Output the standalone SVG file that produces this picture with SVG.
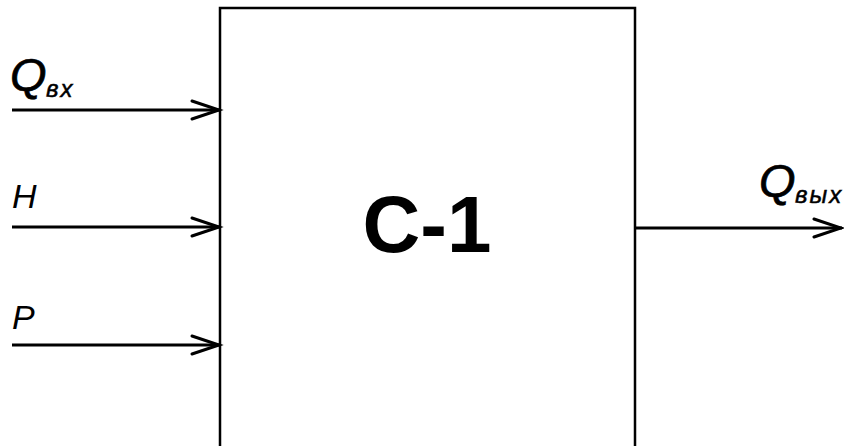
<svg xmlns="http://www.w3.org/2000/svg" width="844" height="446" viewBox="0 0 844 446">
  <style>
    .lbl { font-family: "Liberation Sans", Arial, sans-serif; font-style: italic; fill: #000; }
    .q { font-size: 47px; stroke: #000; stroke-width: 0.7; }
    .sub { font-family: "Liberation Sans", Arial, sans-serif; font-style: italic; fill: #000; font-size: 24px; stroke: #000; stroke-width: 0.5; letter-spacing: 2px; }
    .title { font-family: "Liberation Sans", Arial, sans-serif; font-weight: bold; font-size: 80px; fill: #000; }
    .wire { stroke: #000; stroke-width: 3; fill: none; }
    .head { stroke: #000; stroke-width: 3; fill: none; stroke-linecap: round; stroke-linejoin: miter; }
  </style>
  <rect width="844" height="446" fill="#fff"/>

  <!-- block C-1 (bottom edge runs past the frame) -->
  <g id="block">
    <path d="M220,452 V8 H635 V452" fill="none" stroke="#000" stroke-width="2.5"/>
    <text class="title" x="427" y="252" text-anchor="middle">C-1</text>
  </g>

  <!-- input/output signals -->
  <g id="connectors">
    <line class="wire" x1="12" y1="110" x2="220" y2="110"/>
    <polyline class="head" points="192,101 219,110 192,119"/>
    <line class="wire" x1="12" y1="227" x2="220" y2="227"/>
    <polyline class="head" points="192,218 219,227 192,236"/>
    <line class="wire" x1="12" y1="345" x2="220" y2="345"/>
    <polyline class="head" points="192,336 219,345 192,354"/>
    <line class="wire" x1="635" y1="228" x2="842" y2="228"/>
    <polyline class="head" points="814,219 841,228 814,237"/>
  </g>

  <g id="label-qin">
    <text class="lbl q" x="10" y="91">Q</text>
    <text class="sub" x="46" y="97">вх</text>
  </g>
  <g id="label-h">
    <text class="lbl" x="12" y="208" font-size="34">H</text>
  </g>
  <g id="label-p">
    <text class="lbl" x="12" y="329" font-size="34">P</text>
  </g>
  <g id="label-qout">
    <text class="lbl q" x="759" y="197">Q</text>
    <text class="sub" x="795" y="203">вых</text>
  </g>
</svg>
